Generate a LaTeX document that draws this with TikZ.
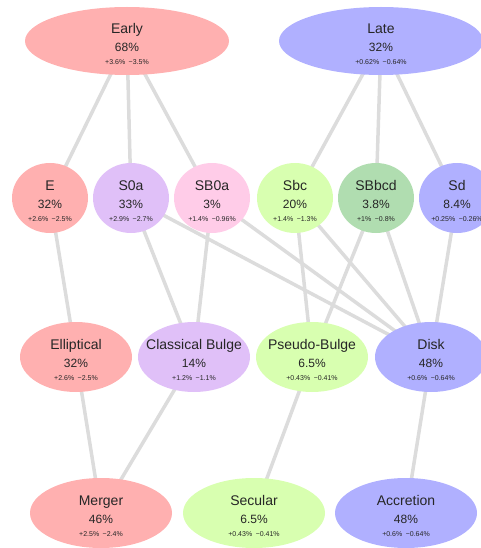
\documentclass[tikz,border=0pt]{standalone}
\usepackage{fontspec}
\setmainfont{Liberation Sans}
\usepackage{xcolor}
\usetikzlibrary{shapes.geometric,backgrounds}
\definecolor{early}{HTML}{FFB0B0}
\definecolor{late}{HTML}{B0B0FF}
\definecolor{sza}{HTML}{E0C0F8}
\definecolor{sbza}{HTML}{FFCCE8}
\definecolor{sbc}{HTML}{D8FFB0}
\definecolor{sbbcd}{HTML}{B0DDB0}
\definecolor{link}{HTML}{DCDCDC}
\newcommand{\nm}[1]{{\fontsize{14}{16}\selectfont\rule{0pt}{16pt}#1}\\[6pt]}
\newcommand{\pc}[1]{{\fontsize{12}{13.5}\selectfont #1}\\[1pt]}
\newcommand{\er}[2]{{\fontsize{7}{8}\selectfont #1\enspace #2}}
\tikzset{
  blob/.style={ellipse, inner xsep=-20pt, inner ysep=0pt, align=center, text=black!85},
  top/.style={blob, minimum width=204pt, minimum height=68pt},
  hub/.style={blob, minimum width=76pt, minimum height=70pt},
  part/.style={blob, minimum width=112pt, minimum height=70pt},
  path/.style={blob, minimum width=142pt, minimum height=70pt},
  link/.style={draw=link, line width=3.5pt}
}

\begin{document}
\begin{tikzpicture}[x=1pt,y=-1pt]
    \useasboundingbox (0,0) rectangle (481,548);

    \node[top, fill=early] (early) at (127,41) {\nm{Early}\pc{68\%}\er{+3.6\%}{−3.5\%}};
    \node[top, fill=late] (late) at (381,41) {\nm{Late}\pc{32\%}\er{+0.62\%}{−0.64\%}};

    \node[hub, fill=early] (e) at (50,198) {\nm{E}\pc{32\%}\er{+2.6\%}{−2.5\%}};
    \node[hub, fill=sza] (s0a) at (131,198) {\nm{S0a}\pc{33\%}\er{+2.9\%}{−2.7\%}};
    \node[hub, fill=sbza] (sb0a) at (212,198) {\nm{SB0a}\pc{3\%}\er{+1.4\%}{−0.96\%}};
    \node[hub, fill=sbc] (sbc) at (295,198) {\nm{Sbc}\pc{20\%}\er{+1.4\%}{−1.3\%}};
    \node[hub, fill=sbbcd] (sbbcd) at (376,198) {\nm{SBbcd}\pc{3.8\%}\er{+1\%}{−0.8\%}};
    \node[hub, fill=late] (sd) at (457,198) {\nm{Sd}\pc{8.4\%}\er{+0.25\%}{−0.26\%}};

    \node[part, fill=early] (elliptical) at (76,357) {\nm{Elliptical}\pc{32\%}\er{+2.6\%}{−2.5\%}};
    \node[part, fill=sza] (classical) at (194,357) {\nm{Classical Bulge}\pc{14\%}\er{+1.2\%}{−1.1\%}};
    \node[part, fill=sbc] (pseudo) at (312,357) {\nm{Pseudo-Bulge}\pc{6.5\%}\er{+0.43\%}{−0.41\%}};
    \node[part, fill=late] (disk) at (431,357) {\nm{Disk}\pc{48\%}\er{+0.6\%}{−0.64\%}};

    \node[path, fill=early] (merger) at (101,513) {\nm{Merger}\pc{46\%}\er{+2.5\%}{−2.4\%}};
    \node[path, fill=sbc] (secular) at (254,513) {\nm{Secular}\pc{6.5\%}\er{+0.43\%}{−0.41\%}};
    \node[path, fill=late] (accretion) at (406,513) {\nm{Accretion}\pc{48\%}\er{+0.6\%}{−0.64\%}};

    \begin{scope}[on background layer]
    \draw[link] (early.center) -- (e.center);
    \draw[link] (early.center) -- (s0a.center);
    \draw[link] (early.center) -- (sb0a.center);
    \draw[link] (late.center) -- (sbc.center);
    \draw[link] (late.center) -- (sbbcd.center);
    \draw[link] (late.center) -- (sd.center);

    \draw[link] (e.center) -- (elliptical.center);
    \draw[link] (s0a.center) -- (classical.center);
    \draw[link] (s0a.center) -- (disk.center);
    \draw[link] (sb0a.center) -- (classical.center);
    \draw[link] (sb0a.center) -- (disk.center);
    \draw[link] (sbc.center) -- (pseudo.center);
    \draw[link] (sbc.center) -- (disk.center);
    \draw[link] (sbbcd.center) -- (pseudo.center);
    \draw[link] (sbbcd.center) -- (disk.center);
    \draw[link] (sd.center) -- (disk.center);

    \draw[link] (elliptical.center) -- (merger.center);
    \draw[link] (classical.center) -- (merger.center);
    \draw[link] (pseudo.center) -- (secular.center);
    \draw[link] (disk.center) -- (accretion.center);
    \end{scope}
\end{tikzpicture}
\end{document}
